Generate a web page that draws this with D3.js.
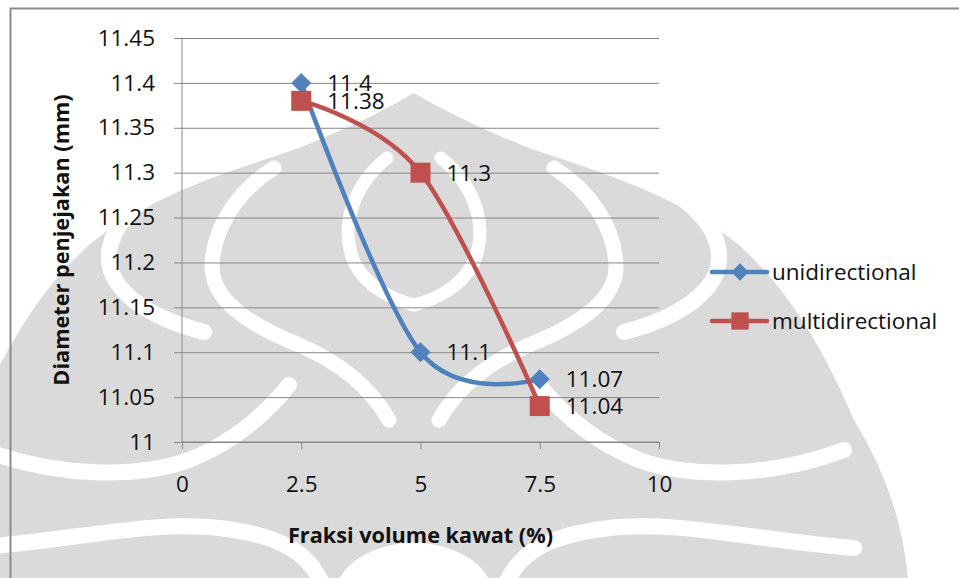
<!DOCTYPE html>
<html>
<head>
<meta charset="utf-8">
<script src="https://cdn.jsdelivr.net/npm/d3@7/dist/d3.min.js"></script>
<style>
  html, body { margin: 0; padding: 0; background: #ffffff; }
  svg { display: block; font-family: "Open Sans", "Liberation Sans", sans-serif; }
</style>
</head>
<body>
<svg id="chart" width="959" height="578"></svg>
<script>
// Wire volume fraction (%) on the x axis
const fractions = [2.5, 5, 7.5];
// Indentation diameter (mm) per fibre arrangement
const unidirectional = [11.4, 11.1, 11.07];
const multidirectional = [11.38, 11.3, 11.04];
const seriesNames = ["unidirectional", "multidirectional"];
const seriesColors = ["#4f81bd", "#c0504d"];
const xTicks = [0, 2.5, 5, 7.5, 10];
const yTicks = [11, 11.05, 11.1, 11.15, 11.2, 11.25, 11.3, 11.35, 11.4, 11.45];
const xTitle = "Fraksi volume kawat (%)";
const yTitle = "Diameter penjejakan (mm)";

const svg = d3.select("#chart");
const gridColor = "#878787";
const textColor = "#111111";
const labelSize = 22.5;
const titleSize = 21.7;

// ---- faint emblem printed behind the chart (drawn as two mirrored halves) ----
const mark = svg.append("g").attr("class", "emblem");
const cx = 414;
const markFill = "#dadada";
function emblemHalf(g) {
  g.append("path")
    .attr("d", "M0,93 C-25,108 -65,128 -115,148 C-185,172 -265,195 -325,245 " +
               "C-375,290 -410,350 -440,420 C-470,470 -490,520 -495,590 L0,590 Z")
    .attr("fill", markFill);
  const bands = [
    ["M-220,172 C-265,190 -303,220 -305,255 C-307,290 -265,318 -210,332", 16],
    ["M-140,168 C-175,190 -200,225 -202,265 C-203,300 -165,325 -115,345 C-75,362 -45,385 -25,420", 15],
    ["M-27,158 C-60,185 -75,225 -60,262 C-47,288 -20,300 0,305", 13],
    ["M-430,450 C-355,478 -275,478 -225,460 C-175,440 -145,410 -125,385", 16],
    ["M-440,548 C-340,540 -260,520 -195,528 C-135,535 -100,552 -88,595", 16]
  ];
  bands.forEach(([d, w]) => g.append("path").attr("d", d)
    .attr("fill", "none").attr("stroke", "#ffffff").attr("stroke-width", w)
    .attr("stroke-linecap", "round"));
  g.append("path")
    .attr("d", "M-80,595 C-76,565 -45,545 0,542 L0,595 Z")
    .attr("fill", "#ffffff");
}
emblemHalf(mark.append("g").attr("transform", `translate(${cx},0)`));
emblemHalf(mark.append("g").attr("transform", `translate(${cx},0) scale(-1,1)`));

// ---- chart frame ----
svg.append("rect")
  .attr("x", 10.5).attr("y", 8.5).attr("width", 1000).attr("height", 1000)
  .attr("fill", "none").attr("stroke", "#8a8a8a").attr("stroke-width", 2);

const x = d3.scaleLinear().domain([0, 10]).range([182, 659]);
const y = d3.scaleLinear().domain([11, 11.45]).range([442, 38]);

// horizontal gridlines
svg.append("g")
  .attr("transform", `translate(${x(0)},0)`)
  .call(d3.axisLeft(y).tickValues(yTicks).tickSize(-(x(10) - x(0))).tickFormat(""))
  .call(g => g.select(".domain").remove())
  .call(g => g.selectAll("line").attr("stroke", gridColor).attr("stroke-width", 1));

// y axis
svg.append("g")
  .attr("transform", `translate(${x(0)},0)`)
  .call(d3.axisLeft(y).tickValues(yTicks).tickSize(8).tickPadding(19).tickFormat(d => String(d)))
  .call(g => g.select(".domain").attr("stroke", gridColor).attr("d", `M0,${y(11.45)}V${y(11)}`))
  .call(g => g.selectAll("line").attr("stroke", gridColor))
  .call(g => g.selectAll("text").attr("fill", textColor).attr("font-size", labelSize)
    .attr("font-family", "\"Open Sans\", sans-serif"));

// x axis
svg.append("g")
  .attr("transform", `translate(0,${y(11)})`)
  .call(d3.axisBottom(x).tickValues(xTicks).tickSize(7).tickFormat(d => String(d)))
  .call(g => g.select(".domain").attr("stroke", gridColor).attr("d", `M${x(0)},0H${x(10)}`))
  .call(g => g.selectAll("line").attr("stroke", gridColor))
  .call(g => g.selectAll("text").attr("fill", textColor).attr("font-size", labelSize)
    .attr("font-family", "\"Open Sans\", sans-serif")
    .attr("y", 42).attr("dy", "0.35em"));

// axis titles
svg.append("text")
  .attr("x", x(5)).attr("y", 543)
  .attr("text-anchor", "middle").attr("font-weight", "bold").attr("font-size", titleSize)
  .attr("fill", textColor).text(xTitle);
svg.append("text")
  .attr("transform", `translate(69,${y(11.225)}) rotate(-90)`)
  .attr("text-anchor", "middle").attr("font-weight", "bold").attr("font-size", titleSize)
  .attr("fill", textColor).text(yTitle);

// ---- series ----
const allSeries = [unidirectional, multidirectional];
const line = d3.line()
  .x((d, i) => x(fractions[i]))
  .y(d => y(d))
  .curve(d3.curveCardinal.tension(0));

allSeries.forEach((vals, s) => {
  svg.append("path")
    .datum(vals)
    .attr("d", line)
    .attr("fill", "none")
    .attr("stroke", seriesColors[s])
    .attr("stroke-width", 4.5)
    .attr("stroke-linejoin", "round")
    .attr("stroke-linecap", "round");
});

// diamond = square turned 45 degrees
const markerPath = (s, size) => d3.symbol(d3.symbolSquare, size)();
const markerTurn = s => (s === 0 ? " rotate(45)" : "");

allSeries.forEach((vals, s) => {
  svg.append("g").selectAll("path")
    .data(vals)
    .join("path")
    .attr("transform", (d, i) => `translate(${x(fractions[i])},${y(d)})${markerTurn(s)}`)
    .attr("d", markerPath(s, s === 0 ? 200 : 400))
    .attr("fill", seriesColors[s]);
  svg.append("g").selectAll("text")
    .data(vals)
    .join("text")
    .attr("x", (d, i) => x(fractions[i]) + 26)
    .attr("y", d => y(d))
    .attr("dy", "0.36em")
    .attr("font-size", labelSize)
    .attr("fill", textColor)
    .text(d => String(d));
});

// ---- legend ----
const legendY = [272, 321];
seriesNames.forEach((name, s) => {
  const g = svg.append("g").attr("transform", `translate(0,${legendY[s]})`);
  g.append("line").attr("x1", 712).attr("x2", 767).attr("y1", 0).attr("y2", 0)
    .attr("stroke", seriesColors[s]).attr("stroke-width", 4.5).attr("stroke-linecap", "round");
  g.append("path")
    .attr("transform", `translate(740,0)${markerTurn(s)}`)
    .attr("d", markerPath(s, s === 0 ? 150 : 300))
    .attr("fill", seriesColors[s]);
  g.append("text").attr("x", 772).attr("dy", "0.36em")
    .attr("font-size", labelSize).attr("fill", textColor).text(name);
});
</script>
</body>
</html>
